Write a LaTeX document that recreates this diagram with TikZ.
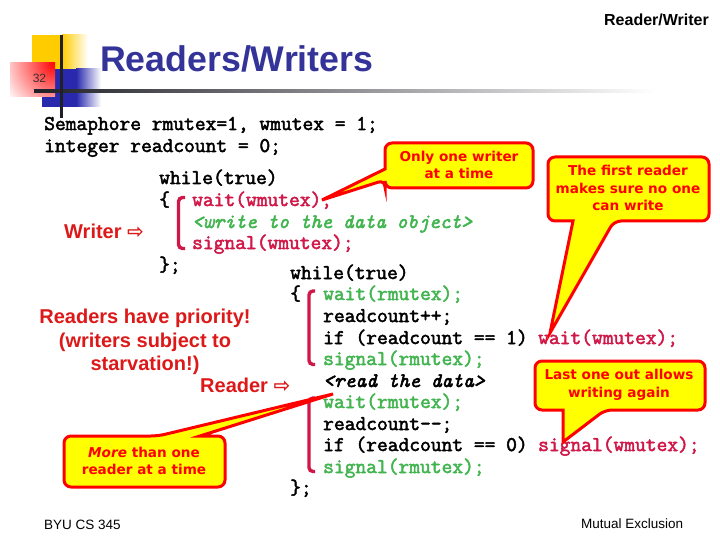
\documentclass[tikz,border=0pt]{standalone}
\usepackage{fontspec}
\setmainfont{Liberation Sans}
\setmonofont[FakeBold=2.4]{Latin Modern Mono}
\newfontfamily\arrowfont{DejaVu Sans}
\newfontfamily\notefont{DejaVu Sans}
\definecolor{titleblue}{RGB}{51,51,153}
\definecolor{labelred}{RGB}{221,24,24}
\definecolor{codegreen}{RGB}{66,180,80}
\definecolor{codecrimson}{RGB}{208,24,72}
\definecolor{noteyellow}{RGB}{255,255,0}
\definecolor{barblack}{RGB}{32,32,40}
\tikzset{
	codeline/.style={anchor=base west,inner sep=0pt,font=\ttfamily\fontsize{20.9}{22}\selectfont},
	slantline/.style={anchor=base west,inner sep=0pt,font=\ttfamily\itshape\fontsize{20.5}{22}\selectfont},
	greenline/.style={codeline,text=codegreen},
	crimsonline/.style={codeline,text=codecrimson},
	callout/.style={draw=red,fill=noteyellow,line width=3pt,line join=miter},
	notetext/.style={align=center,inner sep=0pt,text=red,font=\notefont\bfseries\fontsize{13.6}{17.5}\selectfont},
	sidelabel/.style={anchor=base west,inner sep=0pt,text=labelred,font=\bfseries\fontsize{20}{22}\selectfont},
	bracket/.style={draw=codecrimson,line width=3.4pt,rounded corners=4pt},
	footer/.style={anchor=base west,inner sep=0pt,font=\fontsize{13.5}{16}\selectfont}
}
\begin{document}
\begin{tikzpicture}[x=1pt,y=-1pt]
	\useasboundingbox (0,0) rectangle (720,540);
	% logo
	\fill[color={rgb,255:red,255;green,204;blue,0}] (32,35) rectangle (62,69);
	\shade[left color={rgb,255:red,255;green,204;blue,0},right color=white] (62,35) rectangle (88,69);
	\fill[titleblue!80!blue] (42,69) rectangle (76,107);
	\shade[left color=titleblue!80!blue,right color=white] (76,69) rectangle (101,107);
	\begin{scope}
		\clip (10,63) rectangle (55,97);
		\shade[inner color=red,outer color=white] (55,63) circle (58);
	\end{scope}
	\shade[left color=barblack,right color=white] (34,89.5) rectangle (655,92.5);
	\fill[barblack] (59.5,35) rectangle (62.5,118);
	\node (pagenum) at (39.5,78) [inner sep=0pt,font=\fontsize{12}{14}\selectfont,text=black!80] {32};
	\node (heading) at (100,72) [anchor=base west,inner sep=0pt,text=titleblue,font=\bfseries\fontsize{35.7}{40}\selectfont] {Readers/Writers};
	\node (topic) at (709,26) [anchor=base east,inner sep=0pt,font=\bfseries\fontsize{16}{18}\selectfont] {Reader/Writer};
	% shared variables
	\node (sem) at (44,130) [codeline] {Semaphore rmutex=1, wmutex = 1;};
	\node (count) at (44,152) [codeline] {integer readcount = 0;};
	% writer
	\node (wwhile) at (159,184) [codeline] {while(true)};
	\node (wopen) at (159,206) [codeline] {\{};
	\node (wwait) at (192,206) [crimsonline] {wait(wmutex);};
	\node (wdata) at (192,228) [slantline,text=codegreen] {<write to the data object>};
	\node (wsignal) at (192,249) [crimsonline] {signal(wmutex);};
	\node (wclose) at (159,271) [codeline] {\};};
	\draw[bracket] (185,197.5) -- (178.5,197.5) -- (178.5,248.5) -- (185,248.5);
	\node (writer) at (64,239) [sidelabel] {Writer {\arrowfont\char"21E8}};
	% reader
	\node (rwhile) at (290,279) [codeline] {while(true)};
	\node (ropen) at (290,300) [codeline] {\{};
	\node (rwait) at (323,300) [greenline] {wait(rmutex);};
	\node (rinc) at (323,322) [codeline] {readcount++;};
	\node (rif) at (323,344) [codeline] {if (readcount == 1) };
	\node (rlock) at (538,344) [crimsonline] {wait(wmutex);};
	\node (rsignal) at (323,365) [greenline] {signal(rmutex);};
	\node (rdata) at (323,387) [slantline] {<read the data>};
	\node (rwaitb) at (323,408) [greenline] {wait(rmutex);};
	\node (rdec) at (323,430) [codeline] {readcount-{}-;};
	\node (rifb) at (323,451) [codeline] {if (readcount == 0) };
	\node (runlock) at (538,451) [crimsonline] {signal(wmutex);};
	\node (rsignalb) at (323,473) [greenline] {signal(rmutex);};
	\node (rclose) at (290,494) [codeline] {\};};
	\draw[bracket] (315,291) -- (309,291) -- (309,364.5) -- (315,364.5);
	\draw[bracket] (315,398) -- (309,398) -- (309,471.5) -- (315,471.5);
	\node (reader) at (200,392) [sidelabel] {Reader {\arrowfont\char"21E8}};
	\node (priority) at (145,342) [align=center,inner sep=0pt,text=labelred,font=\bfseries\fontsize{20}{23.5}\selectfont] {Readers have priority!\\(writers subject to\\starvation!)};
	% callouts
	\draw[callout,rounded corners=7pt] (385,143) -- (533,143) -- (533,188) -- (385,188) -- (385,180)[sharp corners] -- (322,200) -- (385,169)[rounded corners=7pt] -- cycle;
	\node (note1) at (459,165) [notetext] {Only one writer\\at a time};
	\draw[callout,rounded corners=7pt] (548,157) -- (709,157) -- (709,221) -- (614,221)[sharp corners] -- (550,333) -- (573,221)[rounded corners=7pt] -- (548,221) -- cycle;
	\node (note2) at (628,188) [notetext] {The first reader\\makes sure no one\\can write};
	\draw[callout,rounded corners=7pt] (535,361) -- (705,361) -- (705,410) -- (605,410)[sharp corners] -- (563,442) -- (563,410)[rounded corners=7pt] -- (535,410) -- cycle;
	\node (note3) at (619,385) [notetext] {Last one out allows\\writing again};
	\draw[callout,rounded corners=7pt] (64,436) -- (158,436)[sharp corners] -- (333,394) -- (200,436)[rounded corners=7pt] -- (225,436) -- (225,487) -- (64,487) -- cycle;
	\node (note4) at (144,461) [notetext] {{\itshape More} than one\\reader at a time};
	% footers
	\node (course) at (44,529) [footer] {BYU CS 345};
	\node (unit) at (581,528) [footer] {Mutual Exclusion};
\end{tikzpicture}
\end{document}
